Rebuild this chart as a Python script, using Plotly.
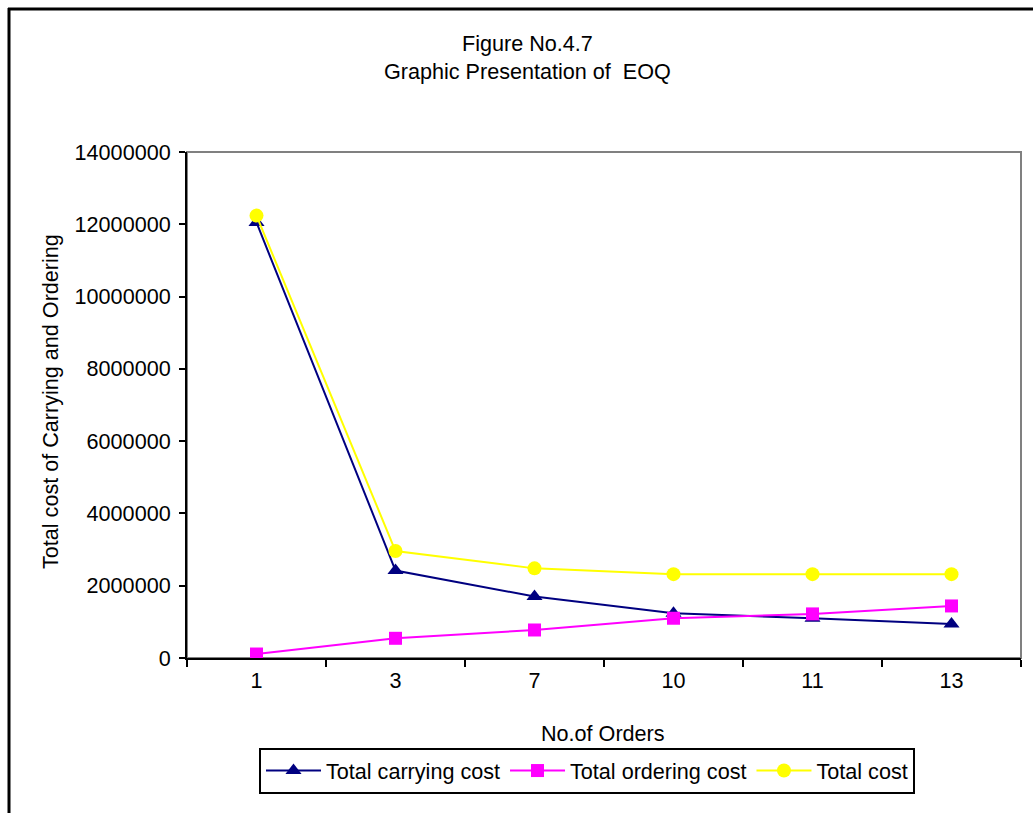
import plotly.graph_objects as go

# EOQ table: cost components by number of orders per year
orders = ["1", "3", "7", "10", "11", "13"]
carrying_cost = [12050000, 2420000, 1700000, 1240000, 1100000, 940000]
ordering_cost = [110000, 545000, 775000, 1100000, 1220000, 1440000]
total_cost = [12240000, 2960000, 2480000, 2320000, 2320000, 2320000]

y_ticks = [0, 2000000, 4000000, 6000000, 8000000, 10000000, 12000000, 14000000]

FONT = "Liberation Sans, Arial, sans-serif"
FS = 21.6

W, H = 1033, 813
L, R, T, B = 187, 12, 152, 155
PW, PH = W - L - R, H - T - B


def px_x(px):
    return (px - L) / PW


def px_y(py):
    return (H - B - py) / PH


fig = go.Figure()

fig.add_trace(go.Scatter(
    x=orders, y=carrying_cost, name="Total carrying cost",
    mode="lines+markers",
    line=dict(color="#000080", width=2),
    marker=dict(symbol="triangle-up", size=14, color="#000080"),
))
fig.add_trace(go.Scatter(
    x=orders, y=ordering_cost, name="Total ordering cost",
    mode="lines+markers",
    line=dict(color="#FF00FF", width=2),
    marker=dict(symbol="square", size=13, color="#FF00FF"),
))
fig.add_trace(go.Scatter(
    x=orders, y=total_cost, name="Total cost",
    mode="lines+markers",
    line=dict(color="#FFFF00", width=2),
    marker=dict(symbol="circle", size=14, color="#FFFF00"),
))

shapes = [
    # plot-area frame (grey top/right edges)
    dict(type="rect", xref="paper", yref="paper", x0=0, x1=1, y0=0, y1=1,
         line=dict(color="#808080", width=2), layer="below"),
    # outer chart border
    dict(type="line", xref="paper", yref="paper",
         x0=px_x(9), x1=px_x(9), y0=px_y(8), y1=px_y(830),
         line=dict(color="black", width=3)),
    dict(type="line", xref="paper", yref="paper",
         x0=px_x(8), x1=px_x(1050), y0=px_y(9), y1=px_y(9),
         line=dict(color="black", width=3)),
]

annotations = [
    dict(text="Figure No.4.7<br>Graphic Presentation of  EOQ",
         xref="paper", yref="paper", x=px_x(527), y=px_y(58),
         xanchor="center", yanchor="middle", showarrow=False,
         font=dict(family=FONT, size=FS, color="black")),
    dict(text="Total cost of Carrying and Ordering",
         xref="paper", yref="paper", x=px_x(50), y=px_y(402),
         xanchor="center", yanchor="middle", textangle=-90, showarrow=False,
         font=dict(family=FONT, size=FS, color="black")),
    dict(text="No.of Orders",
         xref="paper", yref="paper", x=px_x(603), y=px_y(733),
         xanchor="center", yanchor="middle", showarrow=False,
         font=dict(family=FONT, size=FS, color="black")),
]

fig.update_layout(
    width=W, height=H,
    margin=dict(l=L, r=R, t=T, b=B, pad=0),
    paper_bgcolor="white", plot_bgcolor="white",
    font=dict(family=FONT, size=FS, color="black"),
    showlegend=True,
    legend=dict(
        orientation="h", x=px_x(259), y=px_y(748),
        xanchor="left", yanchor="top",
        bordercolor="black", borderwidth=2, bgcolor="white",
        font=dict(family=FONT, size=FS, color="black"),
        itemwidth=55, tracegroupgap=0,
    ),
    xaxis=dict(
        type="category", tickson="boundaries", range=[-0.5, 5.5],
        showline=True, linecolor="black", linewidth=2,
        ticks="outside", ticklen=7, tickcolor="black", tickwidth=2,
        showgrid=False, zeroline=False, layer="below traces",
        ticklabelstandoff=2,
        tickfont=dict(family=FONT, size=FS, color="black"),
    ),
    yaxis=dict(
        range=[0, 14000000], tickvals=y_ticks,
        ticktext=[str(v) for v in y_ticks],
        showline=True, linecolor="black", linewidth=2,
        ticks="outside", ticklen=6, tickcolor="black", tickwidth=2,
        showgrid=False, zeroline=False, layer="below traces",
        ticklabelstandoff=4,
        tickfont=dict(family=FONT, size=FS, color="black"),
    ),
    shapes=shapes,
    annotations=annotations,
)

fig.write_html("out.html")
